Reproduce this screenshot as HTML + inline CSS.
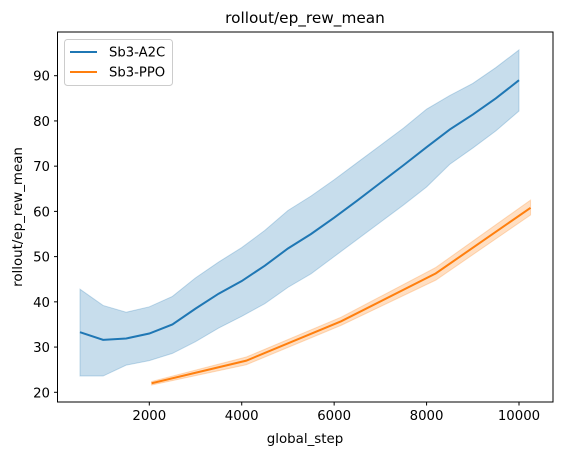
<!DOCTYPE html>
<html><head><meta charset="utf-8"><style>
body{margin:0;background:#fff;width:563px;height:455px;overflow:hidden}
svg{font-family:"DejaVu Sans","Liberation Sans",sans-serif}
</style></head><body>
<svg id="chart" width="563" height="455" xmlns="http://www.w3.org/2000/svg">
<text x="305" y="23" font-size="15.3" text-anchor="middle">rollout/ep_rew_mean</text>
<g id="bands"></g><g id="lines"></g>
<rect x="57.5" y="32" width="495.5" height="370" fill="none" stroke="#000" stroke-width="1"/>
<g id="xt"></g><g id="yt"></g>
<text x="305" y="443" font-size="13.4" text-anchor="middle">global_step</text>
<text transform="translate(22,217) rotate(-90)" font-size="13.4" text-anchor="middle">rollout/ep_rew_mean</text>
<g>
<rect x="64.5" y="39.5" width="108" height="46" rx="3" fill="#fff" fill-opacity="0.8" stroke="#ccc"/>
<line x1="70" y1="52" x2="97" y2="52" stroke="#1f77b4" stroke-width="2"/>
<text x="109" y="56.5" font-size="13.2">Sb3-A2C</text>
<line x1="70" y1="72" x2="97" y2="72" stroke="#ff7f0e" stroke-width="2"/>
<text x="109" y="76.5" font-size="13.2">Sb3-PPO</text>
</g>
</svg>
<script>
const a2cX=[500,1000,1500,2000,2500,3000,3500,4000,4500,5000,5500,6000,6500,7000,7500,8000,8500,9000,9500,10000];
const a2cMean=[33.3,31.6,31.9,33,35,38.5,41.8,44.6,48,51.8,55,58.6,62.4,66.3,70.2,74.2,78.1,81.4,85,89];
const a2cUpper=[42.8,39.2,37.7,38.9,41.2,45.3,48.8,52,55.8,60.2,63.4,67,70.8,74.6,78.4,82.6,85.6,88.3,91.8,95.7];
const a2cLower=[23.6,23.6,26,27,28.6,31.2,34.2,36.8,39.6,43.2,46.2,50,53.8,57.6,61.4,65.4,70.4,74,77.8,82.2];
const ppoX=[2050,4100,6150,8200,10250];
const ppoMean=[22,27,35.7,46.3,60.8];
const ppoUpper=[22.4,27.8,36.6,47.6,62.5];
const ppoLower=[21.6,26.1,34.8,44.8,59.2];
const xTicks=[2000,4000,6000,8000,10000];
const yTicks=[20,30,40,50,60,70,80,90];
const X=v=>149.3+(v-2000)*(369.7/8000);
const Y=v=>392.3-(v-20)*(316.6/70);
const NS="http://www.w3.org/2000/svg";
function mk(t,a,p){const e=document.createElementNS(NS,t);for(const k in a)e.setAttribute(k,a[k]);p.appendChild(e);return e;}
const bands=document.getElementById('bands'),lines=document.getElementById('lines');
function series(xs,m,u,l,col,name){
 const up=xs.map((x,i)=>X(x)+','+Y(u[i])),lo=xs.map((x,i)=>X(x)+','+Y(l[i])).reverse();
 const b=mk('polygon',{points:up.concat(lo).join(' '),fill:col,'fill-opacity':0.25,stroke:col,'stroke-opacity':0.25},bands);
 
 
 const ln=mk('polyline',{points:xs.map((x,i)=>X(x)+','+Y(m[i])).join(' '),fill:'none',stroke:col,'stroke-width':2},lines);
 
 
}
series(a2cX,a2cMean,a2cUpper,a2cLower,'#1f77b4','a2c');
series(ppoX,ppoMean,ppoUpper,ppoLower,'#ff7f0e','ppo');
const xt=document.getElementById('xt'),yt=document.getElementById('yt');
xTicks.forEach(v=>{const x=X(v);
 const l=mk('line',{x1:x,x2:x,y1:402,y2:405.5,stroke:'#000'},xt);
 
 
 const t=mk('text',{x:x,y:420,'font-size':13.3,'text-anchor':'middle'},xt);t.textContent=v;
 
 });
yTicks.forEach(v=>{const y=Y(v);
 const l=mk('line',{x1:54,x2:57.5,y1:y,y2:y,stroke:'#000'},yt);
 
 
 const t=mk('text',{x:50,y:y+5,'font-size':13.3,'text-anchor':'end'},yt);t.textContent=v;
 
 });
</script>
</body></html>
